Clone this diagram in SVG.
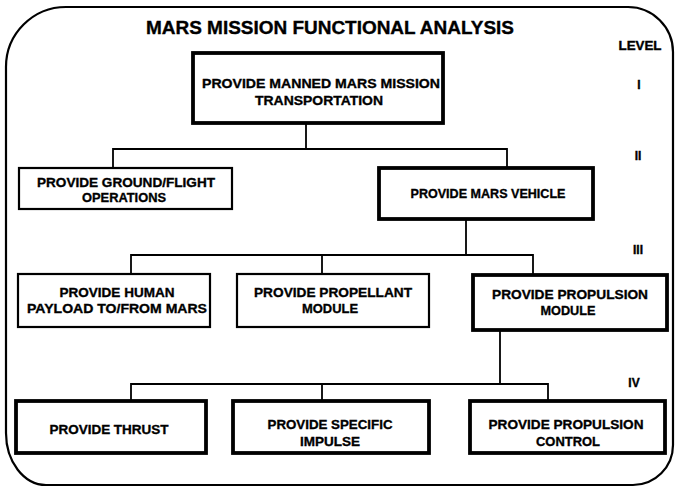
<svg xmlns="http://www.w3.org/2000/svg" width="676" height="487" viewBox="0 0 676 487">
<style>
.t{font-family:"Liberation Sans",Arial,sans-serif;font-weight:bold;fill:#000;stroke:#000;stroke-width:0.35;text-anchor:middle}
.bx{font-size:13.5px}
.thin{fill:#fff;stroke:#000;stroke-width:2.2}
.thick{fill:#fff;stroke:#000;stroke-width:3.8}
.cn{fill:none;stroke:#000;stroke-width:1.8}
.lv{font-size:12px}
</style>
<rect width="676" height="487" fill="#fff"/>
<path d="M66 7 L628 7 A45 45 0 0 1 673 52 L673 445 A40 40 0 0 1 633 485 L46 485 A40 52 0 0 1 6 433 L6 67 A60 60 0 0 1 66 7 Z" fill="none" stroke="#000" stroke-width="2.2"/>
<text class="t" x="330" y="34" font-size="18" textLength="368" lengthAdjust="spacingAndGlyphs">MARS MISSION FUNCTIONAL ANALYSIS</text>
<g id="levels">
<text class="t lv" x="640" y="50" textLength="43" lengthAdjust="spacingAndGlyphs">LEVEL</text>
<text class="t lv" x="639" y="89">I</text>
<text class="t lv" x="638" y="160">II</text>
<text class="t lv" x="638" y="254">III</text>
<text class="t lv" x="634" y="387">IV</text>
</g>
<g id="connectors">
<path class="cn" d="M306 123 V149 M113 168 V149 H507 V168"/>
<path class="cn" d="M466 219 V255 M131 274 V255 H533 V274 M322 255 V274"/>
<path class="cn" d="M500 330 V384 M131 401 V384 H548 V401 M322 384 V401"/>
</g>
<g id="n1">
<rect class="thick" x="193" y="53" width="250" height="70"/>
<text class="t bx" x="321" y="88" textLength="238" lengthAdjust="spacingAndGlyphs">PROVIDE MANNED MARS MISSION</text>
<text class="t bx" x="319" y="105" textLength="128" lengthAdjust="spacingAndGlyphs">TRANSPORTATION</text>
</g>
<g id="n2a">
<rect class="thin" x="19" y="168" width="213" height="41"/>
<text class="t bx" x="126" y="187" textLength="178" lengthAdjust="spacingAndGlyphs">PROVIDE GROUND/FLIGHT</text>
<text class="t bx" x="124" y="202" textLength="84" lengthAdjust="spacingAndGlyphs">OPERATIONS</text>
</g>
<g id="n2b">
<rect class="thick" x="379" y="168" width="214" height="51"/>
<text class="t bx" x="488" y="198" textLength="155" lengthAdjust="spacingAndGlyphs">PROVIDE MARS VEHICLE</text>
</g>
<g id="n3a">
<rect class="thin" x="18" y="274" width="192" height="53"/>
<text class="t bx" x="117" y="297" textLength="115" lengthAdjust="spacingAndGlyphs">PROVIDE HUMAN</text>
<text class="t bx" x="117" y="313" textLength="180" lengthAdjust="spacingAndGlyphs">PAYLOAD TO/FROM MARS</text>
</g>
<g id="n3b">
<rect class="thin" x="237" y="274" width="192" height="53"/>
<text class="t bx" x="333" y="297" textLength="158" lengthAdjust="spacingAndGlyphs">PROVIDE PROPELLANT</text>
<text class="t bx" x="330" y="313" textLength="56" lengthAdjust="spacingAndGlyphs">MODULE</text>
</g>
<g id="n3c">
<rect class="thick" x="473" y="275" width="194" height="55"/>
<text class="t bx" x="570" y="299" textLength="156" lengthAdjust="spacingAndGlyphs">PROVIDE PROPULSION</text>
<text class="t bx" x="568" y="315" textLength="55" lengthAdjust="spacingAndGlyphs">MODULE</text>
</g>
<g id="n4a">
<rect class="thick" x="16" y="401" width="190" height="52"/>
<text class="t bx" x="109" y="434" textLength="119" lengthAdjust="spacingAndGlyphs">PROVIDE THRUST</text>
</g>
<g id="n4b">
<rect class="thick" x="233" y="401" width="196" height="52"/>
<text class="t bx" x="330" y="429" textLength="125" lengthAdjust="spacingAndGlyphs">PROVIDE SPECIFIC</text>
<text class="t bx" x="330" y="446" textLength="60" lengthAdjust="spacingAndGlyphs">IMPULSE</text>
</g>
<g id="n4c">
<rect class="thick" x="470" y="401" width="195" height="52"/>
<text class="t bx" x="566" y="429" textLength="155" lengthAdjust="spacingAndGlyphs">PROVIDE PROPULSION</text>
<text class="t bx" x="568" y="446" textLength="64" lengthAdjust="spacingAndGlyphs">CONTROL</text>
</g>
</svg>
